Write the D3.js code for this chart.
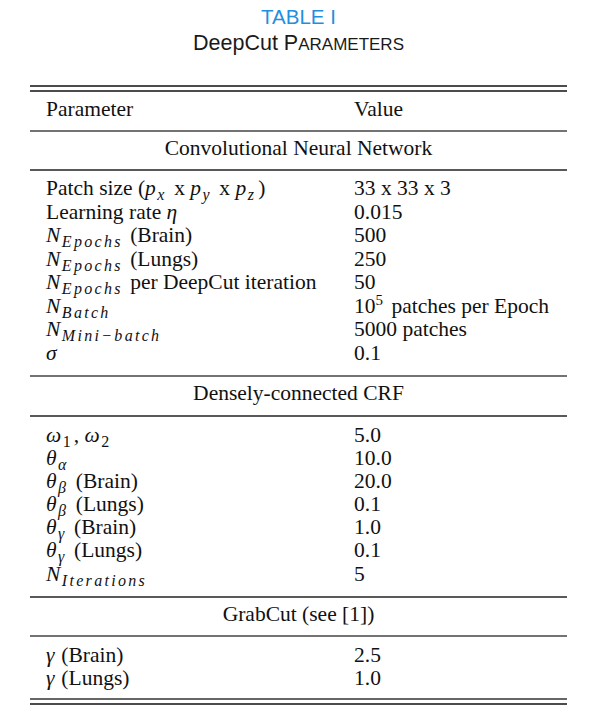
<!DOCTYPE html>
<html><head><meta charset="utf-8">
<script src="https://cdn.jsdelivr.net/npm/d3@7"></script>
<style>body{margin:0;background:#fff}svg{display:block}</style>
</head><body>
<div id="chart"></div>
<script>
// ---- data ----
const tableNumber = "TABLE I";
const tableTitle = [["DeepCut P", "big"], ["ARAMETERS", "small"]];
const columnHeaders = ["Parameter", "Value"];
const sectionTitles = ["Convolutional Neural Network", "Densely-connected CRF", "GrabCut (see [1])"];
// segments: [text, kind]  kind: rm | it | sub | subrm | sup
const cnnParams = [
  [["Patch size (", "rm"], ["p", "it"], ["x", "sub"], [" x ", "rm"], ["p", "it"], ["y", "sub"], [" x ", "rm"], ["p", "it"], ["z", "sub"], [")", "rm"]],
  [["Learning rate ", "rm"], ["η", "it"]],
  [["N", "it"], ["Epochs", "sub"], [" (Brain)", "rm"]],
  [["N", "it"], ["Epochs", "sub"], [" (Lungs)", "rm"]],
  [["N", "it"], ["Epochs", "sub"], [" per DeepCut iteration", "rm"]],
  [["N", "it"], ["Batch", "sub"]],
  [["N", "it"], ["Mini−batch", "sub"]],
  [["σ", "it"]]
];
const cnnValues = [
  [["33 x 33 x 3", "rm"]],
  [["0.015", "rm"]],
  [["500", "rm"]],
  [["250", "rm"]],
  [["50", "rm"]],
  [["10", "rm"], ["5", "sup"], [" patches per Epoch", "rm"]],
  [["5000 patches", "rm"]],
  [["0.1", "rm"]]
];
const crfParams = [
  [["ω", "it"], ["1", "subrm"], [", ", "rm"], ["ω", "it"], ["2", "subrm"]],
  [["θ", "it"], ["α", "sub"]],
  [["θ", "it"], ["β", "sub"], [" (Brain)", "rm"]],
  [["θ", "it"], ["β", "sub"], [" (Lungs)", "rm"]],
  [["θ", "it"], ["γ", "sub"], [" (Brain)", "rm"]],
  [["θ", "it"], ["γ", "sub"], [" (Lungs)", "rm"]],
  [["N", "it"], ["Iterations", "sub"]]
];
const crfValues = ["5.0", "10.0", "20.0", "0.1", "1.0", "0.1", "5"];
const grabParams = [
  [["γ", "it"], ["  (Brain)", "rm"]],
  [["γ", "it"], ["  (Lungs)", "rm"]]
];
const grabValues = ["2.5", "1.0"];

// ---- layout ----
const W = 597, H = 720;
const svg = d3.select("#chart").append("svg").attr("width", W).attr("height", H);
const serif = "'Liberation Serif','Times New Roman',serif";
const sans = "'Liberation Sans',Arial,Helvetica,sans-serif";
const FS = 21.5;
const x = d3.scalePoint().domain(["left", "param", "value", "right"]).range([30, 567]);
const xParam = 46, xValue = 354, xL = 30, xR = 567, xMid = (xL + xR) / 2;

function rich(sel, segs) {
  let shift = 0;
  segs.forEach(([t, k]) => {
    const ts = sel.append("tspan").text(t);
    let target = 0;
    if (k === "rm") { ts.attr("font-size", FS); }
    else if (k === "it") { ts.attr("font-size", FS).attr("font-style", "italic").attr("letter-spacing", 1.5); }
    else if (k === "sub") { ts.attr("font-size", 16).attr("font-style", "italic").attr("letter-spacing", 2.3); target = 5; }
    else if (k === "subrm") { ts.attr("font-size", 16).attr("letter-spacing", 1); target = 5; }
    else if (k === "sup") { ts.attr("font-size", 15).attr("letter-spacing", 1); target = -8; }
    if (target !== shift) { ts.attr("dy", target - shift); if (target === 0) ts.attr("dx", 2); shift = target; }
  });
}

// title
svg.append("text").attr("x", xMid).attr("y", 24).attr("text-anchor", "middle")
  .attr("font-family", sans).attr("font-size", 20.5).attr("fill", "#1f8fe0").text(tableNumber);
const tt = svg.append("text").attr("x", xMid).attr("y", 50).attr("text-anchor", "middle")
  .attr("font-family", sans).attr("fill", "#1a1a1a");
tableTitle.forEach(([t, k]) => tt.append("tspan").attr("font-size", k === "big" ? 21.5 : 17).text(t));

// rules
const rules = [
  {y: 86, w: 1.3, c: "#111"}, {y: 91, w: 1.3, c: "#111"},
  {y: 131, w: 1.4, c: "#444"}, {y: 170, w: 1.4, c: "#222"},
  {y: 376, w: 1.4, c: "#444"}, {y: 416, w: 1.4, c: "#222"},
  {y: 597, w: 1.4, c: "#222"}, {y: 636, w: 1.4, c: "#444"},
  {y: 699, w: 1.3, c: "#333"}, {y: 704, w: 1.3, c: "#111"}
];
svg.selectAll("line.rule").data(rules).join("line").attr("class", "rule")
  .attr("x1", x("left")).attr("x2", x("right")).attr("y1", d => d.y).attr("y2", d => d.y)
  .attr("stroke", d => d.c).attr("stroke-width", d => d.w);

const g = svg.append("g").attr("font-family", serif).attr("fill", "#111");

// headers
g.append("text").attr("x", xParam).attr("y", 116).attr("font-size", FS).text(columnHeaders[0]);
g.append("text").attr("x", xValue).attr("y", 116).attr("font-size", FS).text(columnHeaders[1]);

// section titles
const secY = [155, 400, 621];
g.selectAll("text.sec").data(sectionTitles).join("text").attr("class", "sec")
  .attr("x", xMid).attr("y", (d, i) => secY[i]).attr("text-anchor", "middle")
  .attr("font-size", FS).text(d => d);

function section(params, values, y0, y1) {
  const y = d3.scaleLinear().domain([0, params.length - 1]).range([y0, y1]);
  params.forEach((p, i) => {
    rich(g.append("text").attr("x", xParam).attr("y", y(i)), p);
    const v = typeof values[i] === "string" ? [[values[i], "rm"]] : values[i];
    rich(g.append("text").attr("x", xValue).attr("y", y(i)), v);
  });
}
section(cnnParams, cnnValues, 195, 360);
section(crfParams, crfValues, 441.5, 580.5);
section(grabParams, grabValues, 661.5, 685);
</script>
</body></html>
